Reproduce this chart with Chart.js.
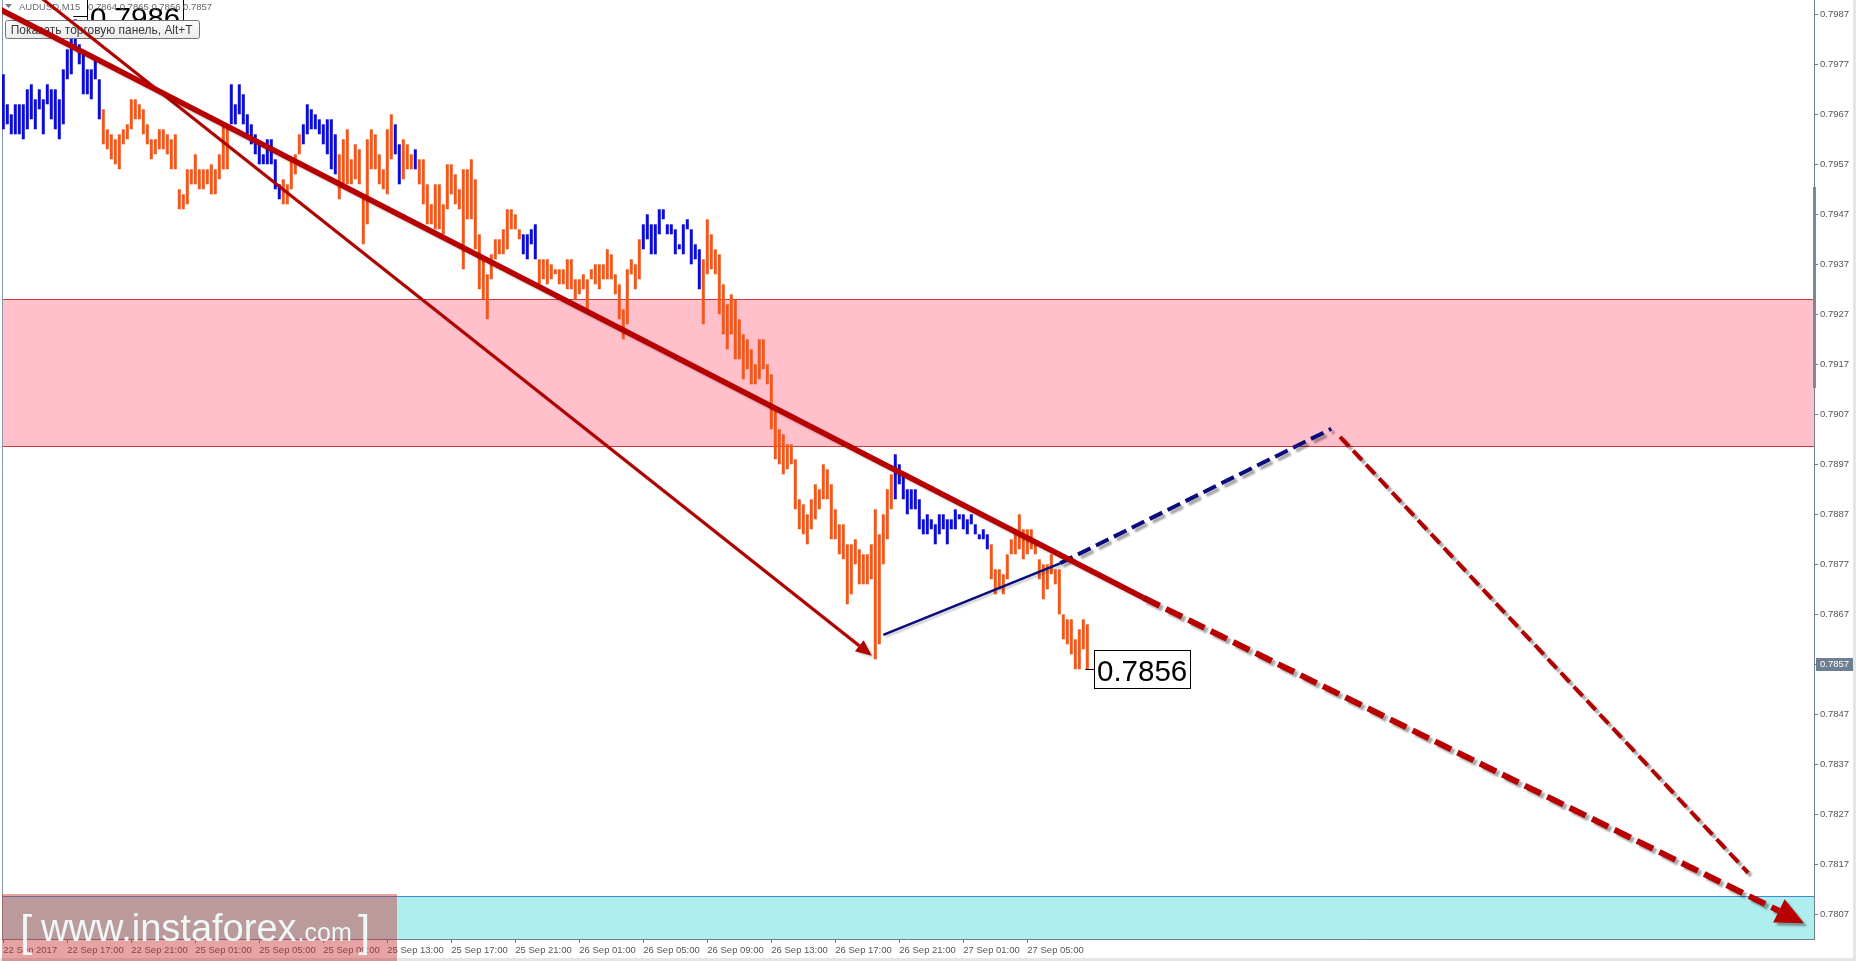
<!DOCTYPE html>
<html><head><meta charset="utf-8">
<script src="https://cdn.jsdelivr.net/npm/chart.js@4.4.1/dist/chart.umd.min.js"></script>
<style>html,body{margin:0;padding:0;background:#fff;overflow:hidden}canvas{display:block}</style>
</head><body>
<canvas id="c" width="1856" height="961"></canvas>
<script>
// ---------- DATA ----------
const symbolName = 'AUDUSD,M15';
const ohlcValues = [0.7864, 0.7865, 0.7856, 0.7857];
const tooltipText = 'Показать торговую панель, Alt+T';
const watermarkParts = ['[', 'www.instaforex', '.com', ']'];

const timeLabels = ['22 Sep 2017','22 Sep 17:00','22 Sep 21:00','25 Sep 01:00','25 Sep 05:00','25 Sep 09:00',
  '25 Sep 13:00','25 Sep 17:00','25 Sep 21:00','26 Sep 01:00','26 Sep 05:00','26 Sep 09:00',
  '26 Sep 13:00','26 Sep 17:00','26 Sep 21:00','27 Sep 01:00','27 Sep 05:00'];
const timeLabelBars = [0,16,32,48,64,80,96,112,128,144,160,176,192,208,224,240,256];
const yTickValues = [0.7807,0.7817,0.7827,0.7837,0.7847,0.7857,0.7867,0.7877,0.7887,0.7897,
  0.7907,0.7917,0.7927,0.7937,0.7947,0.7957,0.7967,0.7977,0.7987];

const barHigh = [
0.7975,0.7969,0.7967,0.7969,0.7969,0.7969,0.7972,0.7973,0.7970,0.7972,
0.7970,0.7973,0.7972,0.7972,0.7970,0.7976,0.7980,0.7984,0.7986,0.7981,
0.7979,0.7976,0.7976,0.7978,0.7974,0.7968,0.7964,0.7963,0.7962,0.7963,
0.7964,0.7965,0.7970,0.7970,0.7969,0.7968,0.7965,0.7962,0.7962,0.7964,
0.7964,0.7963,0.7962,0.7963,0.7952,0.7951,0.7956,0.7956,0.7959,0.7956,
0.7956,0.7956,0.7957,0.7956,0.7959,0.7965,0.7965,0.7973,0.7969,0.7973,
0.7971,0.7967,0.7965,0.7963,0.7961,0.7959,0.7962,0.7962,0.7958,0.7953,
0.7954,0.7953,0.7958,0.7959,0.7963,0.7965,0.7969,0.7968,0.7967,0.7966,
0.7965,0.7966,0.7966,0.7963,0.7959,0.7962,0.7964,0.7958,0.7961,0.7960,
0.7951,0.7962,0.7964,0.7963,0.7959,0.7956,0.7964,0.7967,0.7965,0.7961,
0.7962,0.7961,0.7959,0.7960,0.7958,0.7958,0.7953,0.7949,0.7953,0.7953,
0.7949,0.7957,0.7957,0.7955,0.7952,0.7956,0.7956,0.7958,0.7954,0.7943,
0.7938,0.7935,0.7939,0.7942,0.7942,0.7944,0.7948,0.7948,0.7947,0.7944,
0.7943,0.7943,0.7944,0.7945,0.7938,0.7938,0.7938,0.7937,0.7936,0.7936,
0.7936,0.7938,0.7938,0.7934,0.7934,0.7935,0.7934,0.7936,0.7937,0.7937,
0.7937,0.7940,0.7939,0.7935,0.7933,0.7928,0.7936,0.7938,0.7937,0.7942,
0.7945,0.7947,0.7945,0.7945,0.7948,0.7948,0.7945,0.7945,0.7944,0.7941,
0.7945,0.7946,0.7944,0.7941,0.7940,0.7938,0.7946,0.7943,0.7940,0.7939,
0.7933,0.7929,0.7931,0.7930,0.7926,0.7923,0.7922,0.7920,0.7917,0.7922,
0.7922,0.7917,0.7915,0.7908,0.7904,0.7903,0.7901,0.7901,0.7898,0.7890,
0.7889,0.7887,0.7890,0.7893,0.7892,0.7897,0.7896,0.7893,0.7888,0.7885,
0.7885,0.7881,0.7881,0.7882,0.7880,0.7879,0.7879,0.7881,0.7888,0.7883,
0.7887,0.7892,0.7895,0.7899,0.7897,0.7895,0.7892,0.7892,0.7892,0.7890,
0.7886,0.7887,0.7886,0.7885,0.7887,0.7887,0.7886,0.7886,0.7888,0.7887,
0.7887,0.7886,0.7887,0.7885,0.7883,0.7884,0.7883,0.7881,0.7876,0.7876,
0.7875,0.7879,0.7882,0.7884,0.7887,0.7884,0.7884,0.7884,0.7881,0.7878,
0.7877,0.7877,0.7879,0.7876,0.7876,0.7867,0.7866,0.7866,0.7862,0.7864,
0.7866,0.7865];
const barLow = [
0.7964,0.7965,0.7963,0.7963,0.7963,0.7962,0.7964,0.7966,0.7964,0.7968,
0.7963,0.7969,0.7966,0.7964,0.7962,0.7965,0.7974,0.7975,0.7980,0.7977,
0.7971,0.7971,0.7970,0.7974,0.7966,0.7961,0.7960,0.7958,0.7957,0.7956,
0.7961,0.7962,0.7964,0.7966,0.7966,0.7963,0.7961,0.7958,0.7959,0.7960,
0.7960,0.7959,0.7956,0.7956,0.7948,0.7948,0.7949,0.7953,0.7953,0.7952,
0.7952,0.7953,0.7951,0.7951,0.7954,0.7956,0.7956,0.7965,0.7965,0.7967,
0.7965,0.7963,0.7961,0.7959,0.7957,0.7957,0.7957,0.7957,0.7952,0.7950,
0.7949,0.7949,0.7952,0.7955,0.7959,0.7961,0.7963,0.7964,0.7964,0.7963,
0.7961,0.7959,0.7956,0.7955,0.7950,0.7953,0.7953,0.7953,0.7954,0.7953,
0.7941,0.7945,0.7956,0.7956,0.7953,0.7952,0.7951,0.7958,0.7959,0.7953,
0.7954,0.7956,0.7956,0.7956,0.7953,0.7949,0.7945,0.7945,0.7944,0.7944,
0.7943,0.7948,0.7951,0.7949,0.7948,0.7936,0.7946,0.7946,0.7940,0.7932,
0.7930,0.7926,0.7934,0.7938,0.7939,0.7939,0.7940,0.7944,0.7944,0.7942,
0.7939,0.7938,0.7941,0.7938,0.7933,0.7934,0.7933,0.7934,0.7935,0.7933,
0.7933,0.7932,0.7932,0.7930,0.7931,0.7932,0.7928,0.7934,0.7933,0.7932,
0.7934,0.7934,0.7934,0.7931,0.7926,0.7922,0.7925,0.7935,0.7932,0.7934,
0.7940,0.7942,0.7939,0.7939,0.7943,0.7946,0.7943,0.7943,0.7939,0.7940,
0.7939,0.7944,0.7937,0.7938,0.7932,0.7925,0.7935,0.7936,0.7935,0.7927,
0.7923,0.7920,0.7923,0.7918,0.7918,0.7914,0.7916,0.7913,0.7913,0.7914,
0.7916,0.7913,0.7904,0.7898,0.7897,0.7895,0.7896,0.7897,0.7888,0.7884,
0.7883,0.7881,0.7884,0.7886,0.7888,0.7890,0.7890,0.7882,0.7882,0.7879,
0.7878,0.7869,0.7871,0.7877,0.7873,0.7873,0.7873,0.7874,0.7858,0.7861,
0.7877,0.7882,0.7888,0.7890,0.7893,0.7890,0.7887,0.7888,0.7888,0.7884,
0.7883,0.7883,0.7884,0.7881,0.7883,0.7884,0.7881,0.7884,0.7884,0.7886,
0.7884,0.7883,0.7885,0.7883,0.7882,0.7882,0.7880,0.7874,0.7871,0.7872,
0.7871,0.7874,0.7879,0.7879,0.7880,0.7878,0.7879,0.7880,0.7879,0.7874,
0.7870,0.7872,0.7875,0.7873,0.7867,0.7862,0.7861,0.7859,0.7856,0.7856,
0.7860,0.7856];
// B = blue bar, O = orange bar
const barSide = [
'BBBBBBBBBB','BBBBBBBBBB','BBBBBOOOOO','OOOOOOOOOO','OOOOOOOOOO','OOOOOOOBBB','BBBBBBBBBB',
'OOOOOBBBBB','BBBBOOOOOO','OOOOOOOOBB','OOOBOOOOOO','OOOOOOOOOO','OOOOOOOOOO','BBBBOOOOOO',
'OOOOOOOOOO','OOOOOOOOOO','BBBBBBBBBB','BBBBBOOOOO','OOOOOOOOOO','OOOOOOOOOO','OOOOOOOOOO',
'OOOOOOOOOO','OOOBBBBBBB','BBBBBBBBBB','BBBBBBBOOO','OOOOOOOOOO','OOOOOOOOOO','OO'].join('');

// zones (price bounds)
const pinkZone = [0.79007, 0.79300];
const cyanZone = [0.78020, 0.78106];

// drawn lines: bar-index positions and prices of their end points
const mainTrendBars = [-3.3, 285.05],  mainTrendPrices = [0.79890, 0.78703];
const forecastBars  = [285.05, 443.9], forecastPrices  = [0.78703, 0.78077];
const waveBars      = [7.9, 214.0],    wavePrices      = [0.79913, 0.78607];
const navyBars      = [220.0, 264.2],  navyPrices      = [0.78629, 0.78772];
const navyDashBars  = [264.2, 332.0],  navyDashPrices  = [0.78772, 0.79041];
const dropBars      = [334.2, 436.2],  dropPrices      = [0.79025, 0.78153];

// price labels (bar index, price)
const labelBars = [18, 271];
const labelPrices = [0.7986, 0.7856];

// ---------- STYLE ----------
const FONT = '"Liberation Sans", Arial, sans-serif';
const BLUE = '#0C0CD8', ORANGE = '#F2571C';
const AXIS = '#6F7F8F';
const labelGaps = [12, 7];
const labelShift = [-3, 0];

function pts(xs, ys){ return xs.map((x,i)=>({x:x, y:ys[i]})); }

function lineDs(xs, ys, color, width, dash, extra){
  return Object.assign({
    type:'line', data: pts(xs, ys), borderColor: color, backgroundColor: color,
    borderWidth: width, borderDash: dash || [], borderCapStyle:'butt',
    pointRadius: 0, fill: false, tension: 0, order: 0
  }, extra || {});
}

function drawTextOverlays(chart){
  const ctx = chart.ctx, xs = chart.scales.x, ys = chart.scales.y;
  ctx.save();
  for (let k=0;k<labelBars.length;k++){
    const bx = xs.getPixelForValue(labelBars[k]);
    const y = Math.round(ys.getPixelForValue(labelPrices[k])) + labelShift[k];
    const left = Math.round(bx + labelGaps[k]);
    const text = labelPrices[k].toFixed(4);
    ctx.font = '29.5px ' + FONT;
    const w = Math.round(ctx.measureText(text).width + 6), h = 38;
    ctx.fillStyle = '#fff'; ctx.fillRect(left, y - 19, w, h);
    ctx.strokeStyle = '#000'; ctx.lineWidth = 1;
    ctx.strokeRect(left + 0.5, y - 19 + 0.5, w, h);
    ctx.beginPath(); ctx.moveTo(bx - 2, y + 0.5); ctx.lineTo(left, y + 0.5); ctx.stroke();
    ctx.fillStyle = '#000'; ctx.textAlign = 'left'; ctx.textBaseline = 'alphabetic';
    ctx.fillText(text, left + 3, y + 12);
  }
  // header
  ctx.fillStyle = '#7a7a7a';
  ctx.beginPath(); ctx.moveTo(5,4); ctx.lineTo(12,4); ctx.lineTo(8.5,8); ctx.closePath(); ctx.fill();
  ctx.font = '9.5px ' + FONT; ctx.fillStyle = '#6b6b6b'; ctx.textBaseline = 'alphabetic';
  ctx.fillText(symbolName, 19, 10);
  ctx.fillText(ohlcValues.map(v=>v.toFixed(4)).join(' '), 88, 10);
  // tooltip
  const tx = 5.5, ty = 20.5, tw = 194, th = 18, r = 2;
  ctx.beginPath();
  ctx.moveTo(tx + r, ty); ctx.arcTo(tx + tw, ty, tx + tw, ty + th, r);
  ctx.arcTo(tx + tw, ty + th, tx, ty + th, r); ctx.arcTo(tx, ty + th, tx, ty, r);
  ctx.arcTo(tx, ty, tx + tw, ty, r); ctx.closePath();
  const g = ctx.createLinearGradient(0, ty, 0, ty + th);
  g.addColorStop(0, '#FDFDFD'); g.addColorStop(1, '#EBEBEB');
  ctx.fillStyle = g; ctx.fill();
  ctx.strokeStyle = '#767676'; ctx.lineWidth = 1; ctx.stroke();
  ctx.font = '12px ' + FONT;
  let fs = 12 * 182 / ctx.measureText(tooltipText).width;
  ctx.font = fs.toFixed(2) + 'px ' + FONT;
  ctx.fillStyle = '#3a3a3a'; ctx.fillText(tooltipText, 10.7, 34);
  ctx.restore();
}

const overlayPlugin = {
  id: 'overlay',
  beforeDatasetsDraw(chart){
    const ctx = chart.ctx, a = chart.chartArea, ys = chart.scales.y;
    ctx.save();
    let t = Math.round(ys.getPixelForValue(pinkZone[1])), b = Math.round(ys.getPixelForValue(pinkZone[0]));
    ctx.fillStyle = '#FFC0CB'; ctx.fillRect(a.left, t, a.right - a.left, b - t);
    ctx.strokeStyle = '#D03A3A'; ctx.lineWidth = 1;
    ctx.beginPath(); ctx.moveTo(a.left, t + 0.5); ctx.lineTo(a.right, t + 0.5);
    ctx.moveTo(a.left, b + 0.5); ctx.lineTo(a.right, b + 0.5); ctx.stroke();
    t = Math.round(ys.getPixelForValue(cyanZone[1])); b = Math.round(ys.getPixelForValue(cyanZone[0]));
    ctx.fillStyle = '#AFEEEE'; ctx.fillRect(a.left, t, a.right - a.left, b - t);
    ctx.strokeStyle = '#3F8ED4';
    ctx.beginPath(); ctx.moveTo(a.left, t + 0.5); ctx.lineTo(a.right, t + 0.5); ctx.stroke();
    ctx.strokeStyle = '#8898A8';
    ctx.beginPath(); ctx.moveTo(a.left + 0.5, a.top); ctx.lineTo(a.left + 0.5, a.bottom); ctx.stroke();
    ctx.restore();
  },
  beforeDatasetDraw(chart, args){
    const ds = chart.data.datasets[args.index];
    if (ds.shadow){
      const ctx = chart.ctx; ctx.save();
      ctx.shadowColor = ds.shadow; ctx.shadowOffsetX = ds.shadowOffset; ctx.shadowOffsetY = ds.shadowOffset;
      ctx.shadowBlur = 2;
    }
  },
  afterDatasetDraw(chart, args){
    const ds = chart.data.datasets[args.index], ctx = chart.ctx;
    if (ds.arrow){
      const d = chart.getDatasetMeta(args.index).data;
      const p1 = d[d.length - 2], p2 = d[d.length - 1];
      let dx = p2.x - p1.x, dy = p2.y - p1.y; const L = Math.hypot(dx, dy); dx /= L; dy /= L;
      const len = ds.arrow[0], hw = ds.arrow[1];
      ctx.fillStyle = ds.borderColor;
      ctx.beginPath();
      ctx.moveTo(p2.x + dx * len, p2.y + dy * len);
      ctx.lineTo(p2.x - dy * hw, p2.y + dx * hw);
      ctx.lineTo(p2.x + dy * hw, p2.y - dx * hw);
      ctx.closePath(); ctx.fill();
    }
    if (ds.shadow) ctx.restore();
    if (ds.isBars) drawTextOverlays(chart);
  },
  afterDraw(chart){
    const ctx = chart.ctx, a = chart.chartArea, ys = chart.scales.y;
    ctx.save();
    ctx.fillStyle = '#7C8A98'; ctx.fillRect(a.right - 1, 187, 3, 201);
    const cp = ohlcValues[3];
    const y = Math.round(ys.getPixelForValue(cp));
    ctx.fillStyle = '#6E7F91'; ctx.fillRect(a.right + 2, y - 6, 37, 13);
    ctx.fillStyle = '#fff'; ctx.font = '9.5px ' + FONT; ctx.textBaseline = 'middle'; ctx.textAlign = 'left';
    ctx.fillText(cp.toFixed(4), a.right + 6, y + 0.5);
    ctx.fillStyle = '#E6E6E6'; ctx.fillRect(0, 958, 1856, 3); ctx.fillRect(1853, 0, 3, 958);
    ctx.fillStyle = 'rgba(200,50,50,0.45)'; ctx.fillRect(2, 894, 395, 67);
    ctx.fillStyle = 'rgba(242,252,252,0.95)'; ctx.textBaseline = 'alphabetic';
    ctx.font = '44px ' + FONT; ctx.fillText(watermarkParts[0], 20, 946);
    ctx.font = '38px ' + FONT; ctx.fillText(watermarkParts[1], 41, 941);
    const w1 = ctx.measureText(watermarkParts[1]).width;
    ctx.font = '25px ' + FONT; ctx.fillText(watermarkParts[2], 41 + w1 + 1, 941);
    ctx.font = '44px ' + FONT; ctx.fillText(watermarkParts[3], 358, 946);
    ctx.restore();
  }
};

const barColors = barHigh.map((h,i)=> barSide[i] === 'B' ? BLUE : ORANGE);

const datasets = [
  { type:'bar', isBars:true, order: 10,
    data: barHigh.map((h,i)=>({x:i, y:[barLow[i], h]})),
    backgroundColor: barColors, borderWidth: 0, barThickness: 3, inflateAmount: 0 },
  lineDs(mainTrendBars, mainTrendPrices, '#B70000', 5.5, null, {shadow:'rgba(0,0,0,0.22)', shadowOffset:2}),
  lineDs(forecastBars, forecastPrices, '#B80000', 6, [18,7], {shadow:'rgba(0,0,0,0.35)', shadowOffset:3, arrow:[28,13]}),
  lineDs(waveBars, wavePrices, '#B00000', 3, null, {shadow:'rgba(0,0,0,0.2)', shadowOffset:2, arrow:[16,7]}),
  lineDs(navyBars, navyPrices, '#0B0B7C', 2.5, null, {shadow:'rgba(0,0,0,0.2)', shadowOffset:2}),
  lineDs(navyDashBars, navyDashPrices, '#0B0B7C', 4, [14,6], {shadow:'rgba(0,0,0,0.35)', shadowOffset:3}),
  lineDs(dropBars, dropPrices, '#B00000', 4, [13,6], {shadow:'rgba(0,0,0,0.35)', shadowOffset:3})
];

function noPad(s){ s.paddingTop = 0; s.paddingBottom = 0; s.paddingLeft = 0; s.paddingRight = 0; }

new Chart(document.getElementById('c'), {
  type: 'bar',
  data: { datasets },
  plugins: [overlayPlugin],
  options: {
    responsive: false, animation: false, devicePixelRatio: 1, events: [],
    layout: { padding: { left: 2, top: 0, right: 0, bottom: 0 } },
    plugins: { legend: { display: false }, tooltip: { enabled: false } },
    scales: {
      x: {
        type: 'linear', min: -0.325, max: 452.675, offset: false, position: 'bottom',
        afterBuildTicks: s => { s.ticks = timeLabelBars.map(v => ({ value: v })); },
        afterFit: s => { s.height = 22; noPad(s); },
        grid: { display: true, drawOnChartArea: false, drawTicks: true, tickLength: 4, color: AXIS, offset: false },
        border: { display: true, color: AXIS, width: 1 },
        ticks: { autoSkip: false, maxRotation: 0, minRotation: 0, align: 'start', padding: 2, color: '#555',
          font: { family: FONT, size: 9.5 },
          callback: v => { const k = timeLabelBars.indexOf(v); return k >= 0 ? timeLabels[k] : ''; } }
      },
      y: {
        type: 'linear', position: 'right', min: 0.780206, max: 0.798986, beginAtZero: false,
        afterBuildTicks: s => { s.ticks = yTickValues.map(v => ({ value: v })); },
        afterFit: s => { s.width = 42; noPad(s); },
        grid: { display: true, drawOnChartArea: false, drawTicks: true, tickLength: 4, color: AXIS },
        border: { display: true, color: AXIS, width: 1 },
        ticks: { autoSkip: false, padding: 2, color: '#555', font: { family: FONT, size: 9.5 },
          callback: v => Number(v).toFixed(4) }
      }
    }
  }
});
</script>
</body></html>
